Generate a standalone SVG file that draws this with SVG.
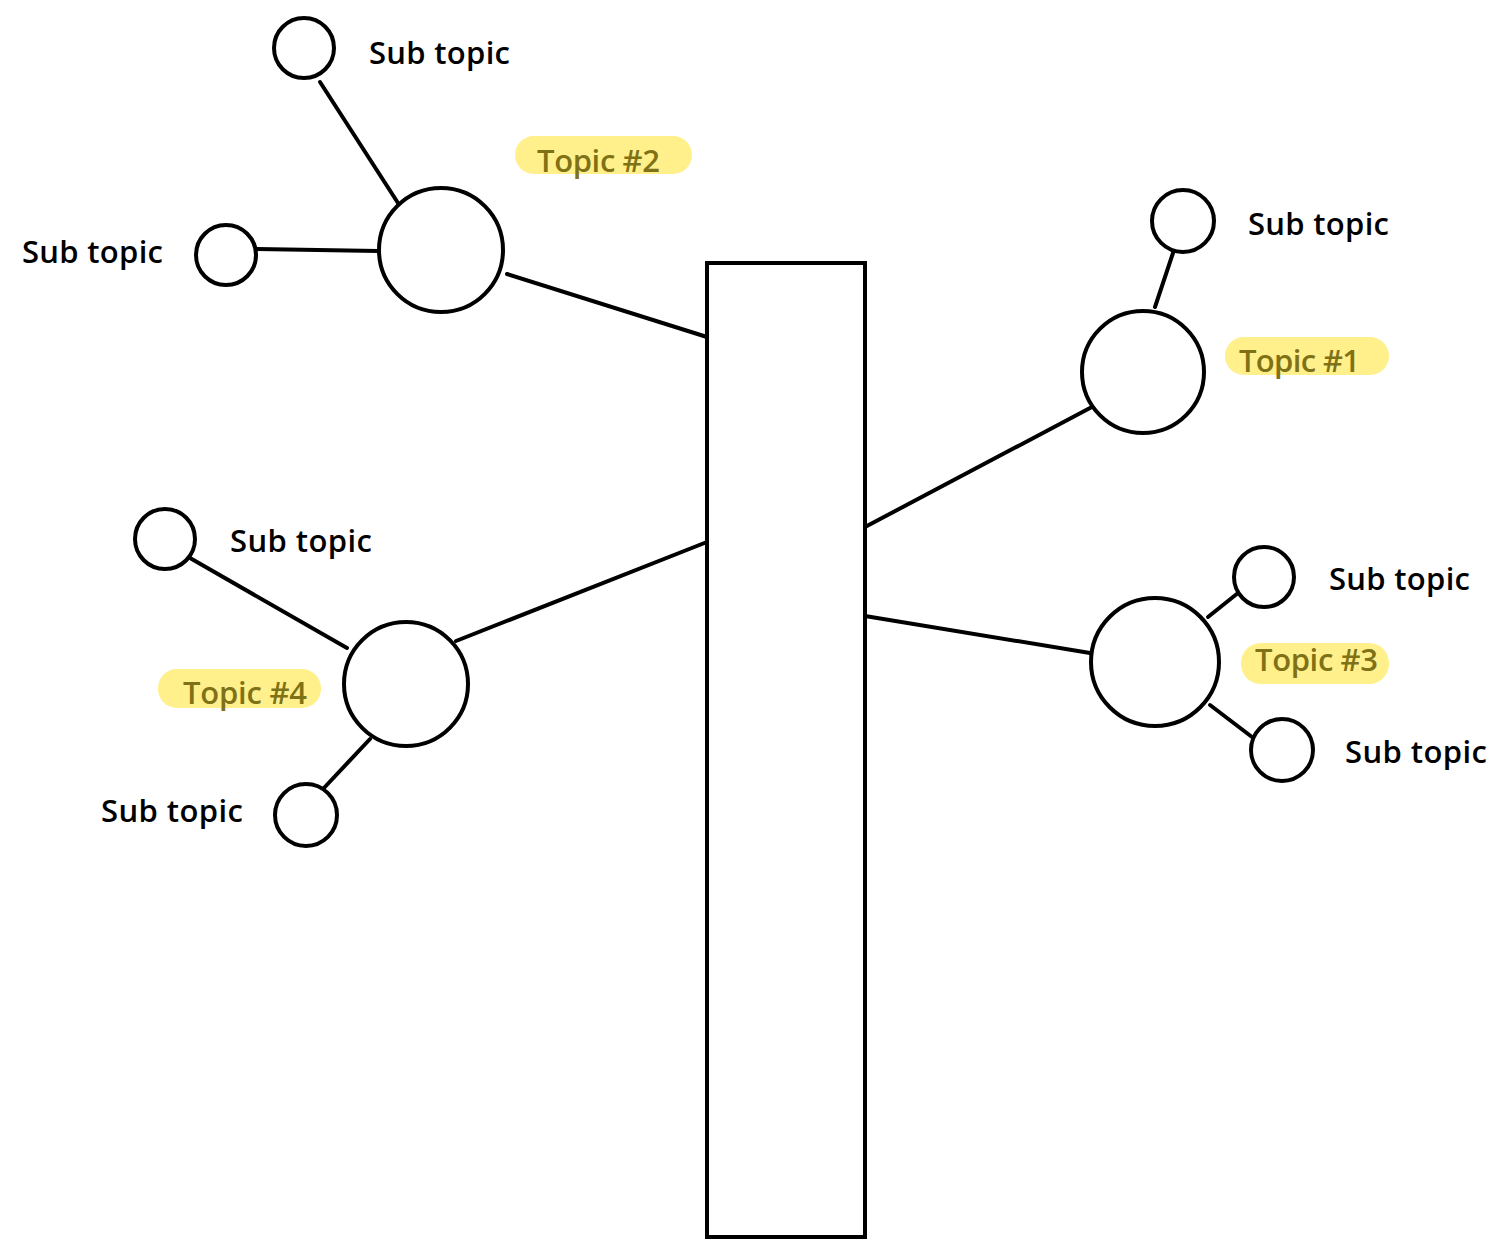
<svg xmlns="http://www.w3.org/2000/svg" width="1509" height="1257" viewBox="0 0 1509 1257">
<style>
.s{fill:none;stroke:#000;stroke-width:4;stroke-linecap:round;stroke-linejoin:round}
.n{fill:#fff;stroke:#000;stroke-width:4}
.t{font-family:"Open Sans","Liberation Sans",sans-serif;font-size:31px;font-weight:600;fill:#000}
.h{fill:#fff08c}
.ht{font-family:"Open Sans","Liberation Sans",sans-serif;font-size:31px;font-weight:600;fill:#7f7216}
</style>
<rect width="1509" height="1257" fill="#fff"/>
<g id="connectors">
<path class="s" d="M707 337 L507 274"/>
<path class="s" d="M398 203 L320 82"/>
<path class="s" d="M378 251 L257 249"/>
<path class="s" d="M865 527 L1090 408"/>
<path class="s" d="M1155 307 L1174 250"/>
<path class="s" d="M707 542 L456 641"/>
<path class="s" d="M347 648 L190 558"/>
<path class="s" d="M370 739 L323 789"/>
<path class="s" d="M865 616 L1090 653"/>
<path class="s" d="M1208 617 L1238 593"/>
<path class="s" d="M1210 705 L1252 737"/>
</g>
<g id="trunk"><rect class="n" x="707" y="263" width="158" height="974"/></g>
<g id="topic2">
<circle class="n" cx="441" cy="250" r="62"/>
<rect class="h" x="515" y="136" width="177" height="38" rx="19"/>
<text class="ht" x="537" y="172" textLength="123">Topic #2</text>
</g>
<g id="sub2a"><circle class="n" cx="304" cy="48" r="30"/><text class="t" x="369" y="64" textLength="141">Sub topic</text></g>
<g id="sub2b"><circle class="n" cx="226" cy="255" r="30"/><text class="t" x="22" y="263" textLength="141">Sub topic</text></g>
<g id="topic1">
<circle class="n" cx="1143" cy="372" r="61"/>
<rect class="h" x="1225" y="337" width="164" height="38" rx="19"/>
<text class="ht" x="1239" y="372" textLength="121">Topic #1</text>
</g>
<g id="sub1"><circle class="n" cx="1183" cy="221" r="31"/><text class="t" x="1248" y="235" textLength="141">Sub topic</text></g>
<g id="topic4">
<circle class="n" cx="406" cy="684" r="62"/>
<rect class="h" x="158" y="669" width="163" height="39" rx="19"/>
<text class="ht" x="183" y="704" textLength="124">Topic #4</text>
</g>
<g id="sub4a"><circle class="n" cx="165" cy="539" r="30"/><text class="t" x="230" y="552" textLength="142">Sub topic</text></g>
<g id="sub4b"><circle class="n" cx="306" cy="815" r="31"/><text class="t" x="101" y="822" textLength="142">Sub topic</text></g>
<g id="topic3">
<circle class="n" cx="1155" cy="662" r="64"/>
<rect class="h" x="1241" y="643" width="148" height="41" rx="20"/>
<text class="ht" x="1255" y="671" textLength="123">Topic #3</text>
</g>
<g id="sub3a"><circle class="n" cx="1264" cy="577" r="30"/><text class="t" x="1329" y="590" textLength="141">Sub topic</text></g>
<g id="sub3b"><circle class="n" cx="1282" cy="750" r="31"/><text class="t" x="1345" y="763" textLength="142">Sub topic</text></g>
</svg>
